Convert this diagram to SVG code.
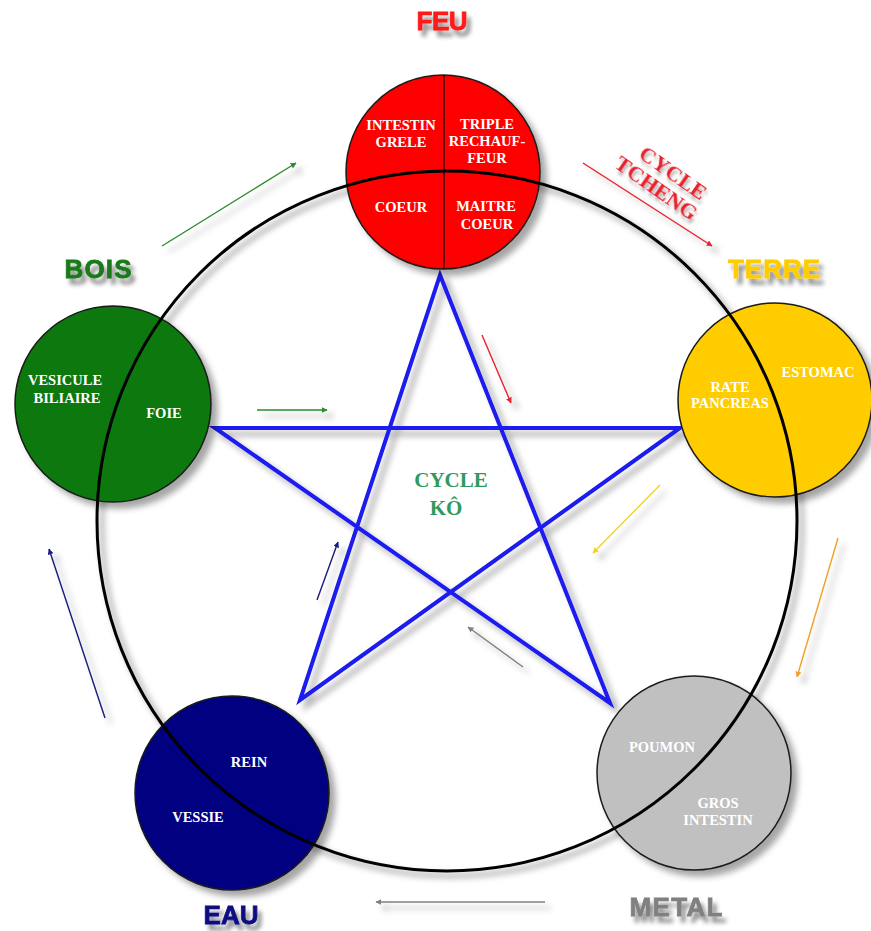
<svg xmlns="http://www.w3.org/2000/svg" width="871" height="931" viewBox="0 0 871 931">
<style>
.org{font-family:"Liberation Serif","Times New Roman",serif;font-weight:bold;font-size:14.5px;fill:#fff;text-anchor:middle}
.ttl{font-family:"Liberation Sans",Arial,sans-serif;font-weight:bold;font-size:26px;text-anchor:middle;stroke-width:0.8}
.node{stroke:#1a1a1a;stroke-width:1.5}
.arr{fill:none;stroke-width:1.4}
.cyc{font-family:"Liberation Serif","Times New Roman",serif;font-weight:bold;text-anchor:middle}
</style>
<defs>
<filter id="sh" filterUnits="userSpaceOnUse" x="0" y="0" width="871" height="931">
<feDropShadow dx="6" dy="6" stdDeviation="3" flood-color="#000" flood-opacity="0.35"/>
</filter>
<filter id="tsh" filterUnits="userSpaceOnUse" x="0" y="0" width="871" height="931">
<feDropShadow dx="4" dy="6" stdDeviation="2" flood-color="#000" flood-opacity="0.45"/>
</filter>
<filter id="tsh2" filterUnits="userSpaceOnUse" x="-200" y="-200" width="400" height="400">
<feDropShadow dx="3" dy="3" stdDeviation="1.5" flood-color="#000" flood-opacity="0.3"/>
</filter>
<filter id="blur" filterUnits="userSpaceOnUse" x="0" y="0" width="871" height="931">
<feGaussianBlur stdDeviation="3"/>
</filter>
<marker id="mg" viewBox="0 0 10 10" refX="9" refY="5" markerWidth="6" markerHeight="6" orient="auto" markerUnits="userSpaceOnUse"><path d="M0,0 L10,5 L0,10 z" fill="#2e8b2e"/></marker>
<marker id="mr" viewBox="0 0 10 10" refX="9" refY="5" markerWidth="6" markerHeight="6" orient="auto" markerUnits="userSpaceOnUse"><path d="M0,0 L10,5 L0,10 z" fill="#e8202a"/></marker>
<marker id="my" viewBox="0 0 10 10" refX="9" refY="5" markerWidth="6" markerHeight="6" orient="auto" markerUnits="userSpaceOnUse"><path d="M0,0 L10,5 L0,10 z" fill="#f5d020"/></marker>
<marker id="mo" viewBox="0 0 10 10" refX="9" refY="5" markerWidth="6" markerHeight="6" orient="auto" markerUnits="userSpaceOnUse"><path d="M0,0 L10,5 L0,10 z" fill="#f0a020"/></marker>
<marker id="mgr" viewBox="0 0 10 10" refX="9" refY="5" markerWidth="6" markerHeight="6" orient="auto" markerUnits="userSpaceOnUse"><path d="M0,0 L10,5 L0,10 z" fill="#808080"/></marker>
<marker id="mn" viewBox="0 0 10 10" refX="9" refY="5" markerWidth="6" markerHeight="6" orient="auto" markerUnits="userSpaceOnUse"><path d="M0,0 L10,5 L0,10 z" fill="#1a1a80"/></marker>
</defs>
<rect width="871" height="931" fill="#fff"/>

<g id="connectors">
<circle cx="452" cy="526" r="350" fill="none" stroke="#000" stroke-opacity="0.35" stroke-width="4" filter="url(#blur)"/>
<path d="M440,275 L610,703 L215,428 L680,428 L300,700 Z" fill="none" stroke="#1a1aee" stroke-width="4" stroke-linejoin="miter" filter="url(#sh)"/>
<g filter="url(#sh)">
<line class="arr" x1="162" y1="246" x2="296" y2="163" stroke="#2e8b2e" marker-end="url(#mg)"/>
<line class="arr" x1="583" y1="163" x2="712" y2="246" stroke="#e8202a" marker-end="url(#mr)"/>
<line class="arr" x1="257" y1="410" x2="327" y2="410" stroke="#2e8b2e" marker-end="url(#mg)"/>
<line class="arr" x1="482" y1="335" x2="511" y2="403" stroke="#e8202a" marker-end="url(#mr)"/>
<line class="arr" x1="660" y1="485" x2="593" y2="553" stroke="#f5d020" marker-end="url(#my)"/>
<line class="arr" x1="838" y1="538" x2="797" y2="677" stroke="#f0a020" marker-end="url(#mo)"/>
<line class="arr" x1="523" y1="667" x2="468" y2="627" stroke="#808080" marker-end="url(#mgr)"/>
<line class="arr" x1="545" y1="902" x2="376" y2="902" stroke="#808080" marker-end="url(#mgr)"/>
<line class="arr" x1="105" y1="718" x2="49" y2="549" stroke="#1a1a80" marker-end="url(#mn)"/>
<line class="arr" x1="317" y1="600" x2="338" y2="542" stroke="#1a1a80" marker-end="url(#mn)"/>
</g>
</g>

<g id="feu">
<circle class="node" cx="443" cy="172" r="97" fill="#ff0000" filter="url(#sh)"/>
<line x1="444" y1="75" x2="444" y2="269" stroke="#3a0000" stroke-width="1.5"/>
</g>
<g id="terre">
<circle class="node" cx="775" cy="400" r="97" fill="#ffcc00" filter="url(#sh)"/>
</g>
<g id="bois">
<circle class="node" cx="113" cy="404" r="98" fill="#087808" filter="url(#sh)"/>
</g>
<g id="eau">
<circle class="node" cx="232" cy="793" r="97" fill="#000080" filter="url(#sh)"/>
</g>
<g id="metal">
<circle class="node" cx="694" cy="773" r="97" fill="#c0c0c0" filter="url(#sh)"/>
</g>

<g id="cycle">
<circle cx="447" cy="521" r="350" fill="none" stroke="#000" stroke-width="3"/>
</g>

<g id="labels-feu">
<text class="org" x="401" y="130">INTESTIN</text>
<text class="org" x="401" y="147">GRELE</text>
<text class="org" x="487" y="129">TRIPLE</text>
<text class="org" x="487" y="146">RECHAUF-</text>
<text class="org" x="487" y="163">FEUR</text>
<text class="org" x="401" y="212">COEUR</text>
<text class="org" x="486" y="211">MAITRE</text>
<text class="org" x="487" y="229">COEUR</text>
<text class="ttl" x="442" y="30" fill="#ff1a1a" stroke="#ff1a1a" textLength="51" filter="url(#tsh)">FEU</text>
</g>
<g id="labels-terre">
<text class="org" x="818" y="377">ESTOMAC</text>
<text class="org" x="730" y="392">RATE</text>
<text class="org" x="730" y="408">PANCREAS</text>
<text class="ttl" x="774" y="278" fill="#ffcc00" stroke="#ffcc00" textLength="92" filter="url(#tsh)">TERRE</text>
</g>
<g id="labels-bois">
<text class="org" x="65" y="385">VESICULE</text>
<text class="org" x="67" y="403">BILIAIRE</text>
<text class="org" x="164" y="418">FOIE</text>
<text class="ttl" x="98" y="278" fill="#1a7a1a" stroke="#1a7a1a" textLength="67" filter="url(#tsh)">BOIS</text>
</g>
<g id="labels-eau">
<text class="org" x="249" y="767">REIN</text>
<text class="org" x="198" y="822">VESSIE</text>
<text class="ttl" x="231" y="924" fill="#0a0a80" stroke="#0a0a80" textLength="55" filter="url(#tsh)">EAU</text>
</g>
<g id="labels-metal">
<text class="org" x="662" y="752" fill="#f2f2f2">POUMON</text>
<text class="org" x="718" y="808" fill="#f2f2f2">GROS</text>
<text class="org" x="718" y="825" fill="#f2f2f2">INTESTIN</text>
<text class="ttl" x="676" y="916" fill="#808080" stroke="#808080" textLength="93" filter="url(#tsh)">METAL</text>
</g>

<g id="cycle-tcheng" transform="translate(662,180) rotate(35)" filter="url(#tsh2)">
<text class="cyc" x="5" y="-5" font-size="22" fill="#e8202a">CYCLE</text>
<text class="cyc" x="0" y="17" font-size="22" fill="#e8202a">TCHENG</text>
</g>
<g id="cycle-ko">
<text class="cyc" x="451" y="487" font-size="21" fill="#2f9a5f">CYCLE</text>
<text class="cyc" x="446" y="515" font-size="21" fill="#2f9a5f">KÔ</text>
</g>
</svg>
